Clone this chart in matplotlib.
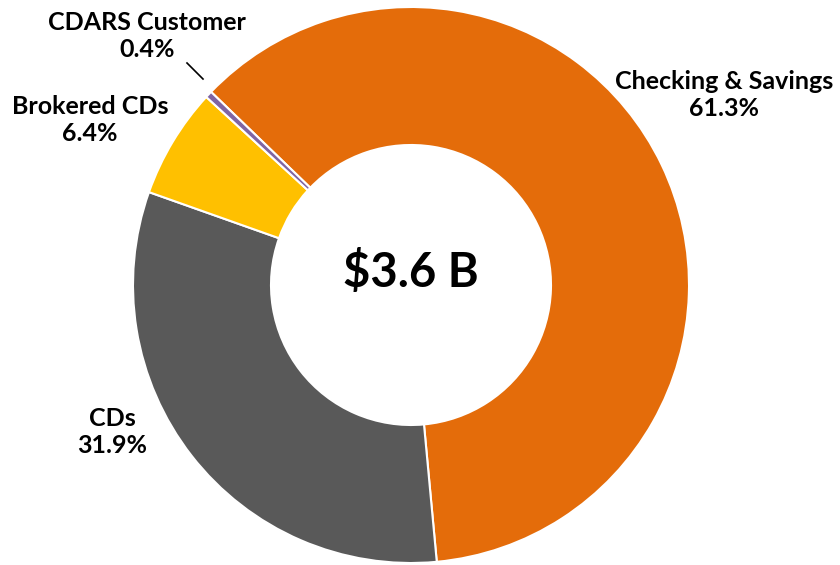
import matplotlib
matplotlib.use("Agg")
import matplotlib.pyplot as plt

categories = ["Checking & Savings", "CDs", "Brokered CDs", "CDARS Customer"]
values = [61.3, 31.9, 6.4, 0.4]
colors = ["#E46C0A", "#595959", "#FFC000", "#8064A2"]
center_label = "$3.6 B"

plt.rcParams['font.family'] = ['Lato', 'DejaVu Sans']

W, H = 840, 565
fig = plt.figure(figsize=(W / 100, H / 100), dpi=100)
ax = fig.add_axes([0, 0, 1, 1])

cx, cy = 411, H - 285
R = 278
ax.pie(values, colors=colors, startangle=136, counterclock=False,
       center=(cx, cy), radius=R, frame=True,
       wedgeprops=dict(width=138, edgecolor='white', linewidth=1.5))
ax.set_xlim(0, W)
ax.set_ylim(0, H)
ax.set_aspect('equal')
ax.axis('off')

label_pos = {
    "Checking & Savings": (724, H - 95),
    "CDs": (112, H - 432),
    "Brokered CDs": (90, H - 120),
    "CDARS Customer": (147, H - 36),
}
for cat, v in zip(categories, values):
    x, y = label_pos[cat]
    ax.text(x, y, f"{cat}\n{v:.1f}%", ha='center', va='center',
            fontsize=18, fontweight='bold', linespacing=1.25)

ax.plot([187, 203], [H - 63, H - 79], color='black', linewidth=1.2)

ax.text(cx, H - 272, center_label, ha='center', va='center',
        fontsize=34, fontweight='bold')

fig.savefig("out.png", dpi=100)
